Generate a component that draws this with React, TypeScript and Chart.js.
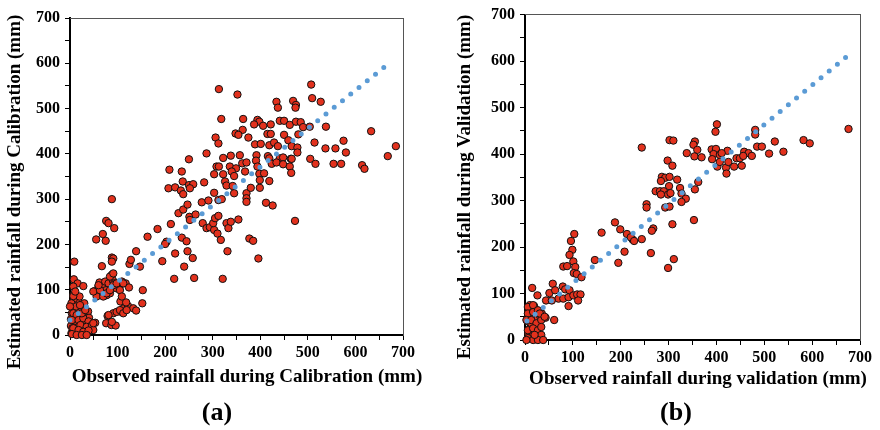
import React, { useEffect, useRef } from 'react';
import { Chart, registerables } from 'chart.js';

Chart.register(...registerables);

// ---- Panel (a): calibration ----
const calObserved = [
  313, 352, 507, 509, 527, 434, 437, 469, 475, 474,
  318, 364, 394, 398, 387, 406, 422, 441, 450, 462,
  475, 485, 490, 504, 538, 633, 363, 348, 354, 415,
  422, 450, 480, 306, 312, 375, 389, 401, 419, 429,
  437, 459, 466, 478, 514, 537, 558, 575, 580, 685,
  668, 250, 287, 322, 338, 357, 392, 416, 419, 441,
  448, 464, 478, 505, 516, 554, 570, 614, 619, 308,
  313, 336, 349, 362, 371, 391, 394, 424, 434, 448,
  466, 462, 465, 303, 322, 340, 345, 368, 398, 408,
  235, 237, 250, 259, 282, 326, 329, 342, 345, 371,
  371, 380, 399, 399, 419,
  209, 207, 221, 233, 238, 252, 303,
  88, 76, 81, 69, 93, 75, 55, 139, 163, 184, 212,
  228, 238, 247, 251, 252, 264, 277, 291, 312, 319,
  279, 287, 294, 303, 310, 317, 301, 305, 312, 329,
  333, 338, 354, 371, 377, 385, 412, 426, 396, 331,
  321, 261, 219, 194, 221, 240, 258, 247, 235, 245,
  203, 200, 147, 125, 128, 153, 152, 88, 91, 88, 67,
  473,
  105, 113, 122, 133, 139, 106, 118, 91, 79, 76, 87, 96, 53,
  9, 8, 16, 28, 62, 60, 70, 74, 81, 88, 90, 95,
  81, 77, 67, 52, 56, 109, 117, 84, 91, 76, 98, 105, 124, 93, 84,
  7, 10, 6, 17, 21, 36, 34, 23, 10, 3, 42, 38, 31, 14, 28, 7, 21, 15, 35, 10,
  7, 18, 24, 2, 30, 38, 24, 4, 5, 12, 26, 32, 40, 18, 2, 8, 44, 30, 3, 20,
  7, 13, 7, 14, 4, 18, 28, 39, 22, 35, 46, 49, 7, 18, 28, 39, 4, 14, 25, 35, 0, 25, 32, 21, 49, 11,
  49, 63, 70, 77, 84, 91, 98, 105, 112, 109, 60, 81, 88, 98, 105, 112, 119,
];
const calEstimated = [
  543, 531, 553, 523, 515, 515, 502, 517, 508, 502,
  477, 477, 475, 471, 465, 462, 465, 473, 473, 464,
  471, 470, 459, 460, 460, 450, 453, 445, 442, 444,
  444, 442, 443, 436, 423, 436, 421, 422, 419, 425,
  417, 430, 417, 414, 425, 412, 412, 429, 403, 417,
  395, 388, 401, 391, 396, 397, 397, 395, 390, 390,
  392, 389, 403, 389, 378, 378, 378, 375, 367, 372,
  372, 372, 368, 379, 381, 385, 372, 378, 381, 377,
  389, 372, 358, 355, 355, 361, 351, 361, 356, 357,
  361, 339, 331, 333, 337, 339, 330, 329, 313, 313,
  302, 325, 325, 342, 340,
  365, 324, 326, 319, 311, 324, 314,
  300, 252, 247, 223, 236, 208, 211, 185, 217, 234, 245,
  269, 277, 288, 261, 254, 266, 293, 297, 298, 300,
  247, 236, 238, 232, 224, 210, 247, 258, 263, 247,
  236, 250, 255, 294, 213, 208, 292, 286, 169, 185,
  124, 126, 124, 163, 180, 151, 170, 185, 215, 207,
  206, 201, 151, 157, 166, 99, 70, 171, 169, 162, 152,
  252,
  52, 59, 64, 59, 54, 74, 72, 48, 42, 26, 22, 21, 27,
  162, 123, 114, 108, 116, 108, 107, 118, 114, 133, 121, 110,
  99, 88, 96, 97, 85, 118, 114, 129, 136, 99, 103, 110, 105, 114, 92,
  88, 77, 63, 74, 52, 44, 33, 22, 11, 4, 11, 26, 59, 37, 11, 29, 4, 4, 4, 55,
  107, 18, 35, 20, 48, 52, 63, 48, 15, 45, 28, 18, 38, 60, 35, 80, 22, 70, 70, 85,
  86, 63, 48, 44, 33, 33, 37, 30, 22, 18, 22, 11, 15, 11, 7, 10, 2, 0, 0, 0, 63, 48, 55, 66, 26, 96,
  96, 99, 85, 92, 99, 110, 114, 99, 114, 85, 110, 44, 29, 51, 55, 48, 55,
];
const calTrendObserved = [0, 667];
const calTrendEstimated = [33, 597];

// ---- Panel (b): validation ----
const valObserved = [
  676, 401, 398, 481, 481, 582, 595, 522, 485, 495,
  540, 510, 244, 302, 310, 355, 352, 360, 338, 354,
  369, 390, 399, 394, 407, 423, 411, 391, 402, 407,
  420, 425, 421, 437, 442, 453, 449, 458, 467, 474,
  456, 298, 308, 286, 293, 302, 284, 318, 362, 355,
  301, 273, 282, 290, 299, 304, 284, 324, 327, 336,
  327, 293, 302, 254, 254, 353, 308, 244, 268, 265,
  263, 311, 299,
  188, 199, 213, 225, 221, 228, 160, 103, 96, 99,
  93, 101, 105, 102, 80, 88, 108, 118, 146, 195, 208,
  15, 26, 44, 58, 51, 63, 79, 84, 70, 80, 91, 93,
  101, 109, 116, 111, 91, 56, 61, 43, 35,
  10, 19, 7, 23, 14, 5, 19, 28, 10, 24, 7, 17, 31, 21, 5, 13, 26, 31,
  6, 17, 6, 17, 27, 3, 13, 24, 34, 6, 17, 27, 34, 6, 17, 27, 38, 3, 20, 31, 41, 34,
];
const valEstimated = [
  454, 464, 448, 452, 442, 430, 423, 427, 416, 416,
  405, 401, 414, 430, 429, 427, 420, 409, 402, 395,
  393, 410, 411, 400, 398, 407, 402, 389, 373, 383,
  371, 383, 358, 373, 391, 375, 391, 405, 402, 396,
  396, 386, 375, 351, 349, 351, 342, 345, 340, 324,
  331, 320, 320, 320, 313, 316, 313, 327, 315, 304,
  297, 285, 287, 292, 285, 258, 249, 217, 240, 235,
  187, 174, 155,
  253, 238, 228, 216, 221, 213, 231, 228, 213, 194,
  183, 169, 157, 144, 158, 159, 142, 135, 172, 166, 190,
  112, 96, 85, 121, 101, 107, 115, 109, 89, 89, 92, 107,
  96, 98, 98, 85, 73, 85, 43, 48, 57,
  75, 73, 61, 61, 53, 41, 39, 32, 25, 21, 14, 11, 11, 2, 2, 36, 46, 53,
  71, 75, 57, 60, 64, 43, 43, 36, 43, 21, 25, 21, 11, 4, 0, 0, 0, 0, 11, 57, 50, 28,
];
const valTrendObserved = [4, 675];
const valTrendEstimated = [41, 612];

const FONT_FAMILY = '"Liberation Serif", "Times New Roman", serif';
const MARKER_FILL = '#E2311D';
const TREND_COLOR = '#5B9BD5';

// Draws the two axis titles (real canvas text) at set positions.
const axisTitlesPlugin = {
  id: 'axisTitles',
  afterDraw(chart: any, _args: any, opts: any) {
    const ctx = chart.ctx;
    ctx.save();
    ctx.font = `bold ${opts.size}px ${FONT_FAMILY}`;
    ctx.fillStyle = '#000';
    ctx.textAlign = 'center';
    ctx.textBaseline = 'middle';
    ctx.fillText(opts.xText, opts.xPos[0], opts.xPos[1]);
    ctx.translate(opts.yPos[0], opts.yPos[1]);
    ctx.rotate(-Math.PI / 2);
    ctx.fillText(opts.yText, 0, 0);
    ctx.restore();
  },
};

type PanelProps = {
  pageLeft: number;
  obs: number[];
  est: number[];
  trendObs: number[];
  trendEst: number[];
  xTitle: string;
  yTitle: string;
  pad: { left: number; top: number; right: number; bottom: number };
  yWidth: number;
  xHeight: number;
  xTitlePos: number[];
  yTitlePos: number[];
  tag: string;
  tagCenter: number;
};

function Panel(p: PanelProps) {
  const ref = useRef<HTMLCanvasElement | null>(null);
  useEffect(() => {
    if (!ref.current) return;
    const tickFont = { family: FONT_FAMILY, size: 16, weight: 'bold' as const };
    const label = (v: any) => (Number(v) % 100 === 0 ? String(v) : '');
    const chart = new Chart(ref.current, {
      type: 'scatter',
      data: {
        datasets: [
          {
            label: 'trend',
            data: p.trendObs.map((x, i) => ({ x, y: p.trendEst[i] })),
            showLine: true,
            borderColor: TREND_COLOR,
            borderWidth: 5,
            borderDash: [0, 10.6],
            borderCapStyle: 'round',
            pointRadius: 0,
            pointHoverRadius: 0,
            clip: false as any,
          },
          {
            label: 'points',
            data: p.obs.map((x, i) => ({ x, y: p.est[i] })),
            backgroundColor: MARKER_FILL,
            borderColor: '#111111',
            borderWidth: 1,
            pointRadius: 3.7,
            clip: false as any,
          },
        ],
      },
      options: {
        animation: false,
        responsive: false,
        maintainAspectRatio: false,
        events: [],
        layout: { padding: p.pad },
        plugins: {
          legend: { display: false },
          tooltip: { enabled: false },
          axisTitles: {
            size: 19,
            xText: p.xTitle,
            yText: p.yTitle,
            xPos: p.xTitlePos,
            yPos: p.yTitlePos,
          },
        },
        scales: {
          x: {
            type: 'linear',
            position: 'bottom',
            min: 0,
            max: 700,
            afterFit: (s: any) => { s.height = p.xHeight; },
            ticks: {
              stepSize: 50,
              autoSkip: false,
              maxRotation: 0,
              padding: 3,
              color: '#000',
              font: tickFont,
              callback: label,
            },
            grid: { display: true, drawOnChartArea: false, drawTicks: true, tickLength: 5, color: '#000', lineWidth: 1 },
            border: { display: true, color: '#000', width: 2 },
            title: { display: false, text: p.xTitle },
          },
          y: {
            type: 'linear',
            position: 'left',
            min: 0,
            max: 700,
            afterFit: (s: any) => { s.width = p.yWidth; },
            ticks: {
              stepSize: 50,
              autoSkip: false,
              padding: 5,
              color: '#000',
              font: tickFont,
              callback: label,
            },
            grid: { display: true, drawOnChartArea: false, drawTicks: true, tickLength: 5, color: '#000', lineWidth: 1 },
            border: { display: true, color: '#000', width: 2 },
            title: { display: false, text: p.yTitle },
          },
          x2: {
            type: 'linear',
            position: 'top',
            min: 0,
            max: 700,
            afterFit: (s: any) => { s.height = 0; },
            ticks: { display: false },
            grid: { display: true, drawOnChartArea: false, drawTicks: false },
            border: { display: true, color: '#555', width: 1 },
          },
          y2: {
            type: 'linear',
            position: 'right',
            min: 0,
            max: 700,
            afterFit: (s: any) => { s.width = 0; },
            ticks: { display: false },
            grid: { display: true, drawOnChartArea: false, drawTicks: false },
            border: { display: true, color: '#555', width: 1 },
          },
        },
      } as any,
      plugins: [axisTitlesPlugin],
    });
    return () => chart.destroy();
  }, []);
  return (
    <div style={{ position: 'absolute', left: p.pageLeft, top: 0, width: 440, height: 430 }}>
      <canvas ref={ref} width={440} height={430} style={{ display: 'block', width: 440, height: 430 }} />
      <div
        style={{
          position: 'absolute',
          left: p.tagCenter - 50,
          width: 100,
          top: 398,
          textAlign: 'center',
          fontFamily: FONT_FAMILY,
          fontWeight: 'bold',
          fontSize: 26,
          lineHeight: '28px',
          color: '#000',
        }}
      >
        {p.tag}
      </div>
    </div>
  );
}

export default function App() {
  return (
    <div style={{ position: 'absolute', left: 0, top: 0, width: 880, height: 430, background: '#fff', overflow: 'hidden' }}>
      <Panel
        pageLeft={0}
        obs={calObserved}
        est={calEstimated}
        trendObs={calTrendObserved}
        trendEst={calTrendEstimated}
        xTitle="Observed rainfall during Calibration (mm)"
        yTitle="Estimated rainfall during Calibration (mm)"
        pad={{ left: 0, top: 18, right: 37, bottom: 42 }}
        yWidth={70}
        xHeight={53}
        xTitlePos={[247, 377]}
        yTitlePos={[15, 192]}
        tag="(a)"
        tagCenter={217}
      />
      <Panel
        pageLeft={440}
        obs={valObserved}
        est={valEstimated}
        trendObs={valTrendObserved}
        trendEst={valTrendEstimated}
        xTitle="Observed rainfall during validation (mm)"
        yTitle="Estimated rainfall during Validation (mm)"
        pad={{ left: 0, top: 12, right: 20, bottom: 41 }}
        yWidth={85}
        xHeight={49}
        xTitlePos={[258, 379]}
        yTitlePos={[25, 187]}
        tag="(b)"
        tagCenter={236}
      />
    </div>
  );
}
